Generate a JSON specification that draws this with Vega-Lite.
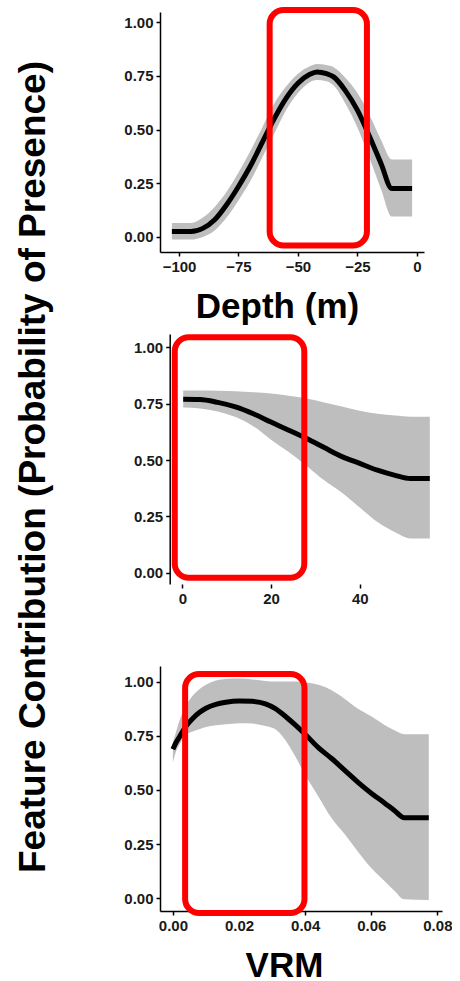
{
  "$schema": "https://vega.github.io/schema/vega-lite/v6.json",
  "background": "white",
  "padding": {"left": 14, "top": 7, "right": 0, "bottom": 0},
  "spacing": 10,
  "title": {
    "text": "Feature Contribution (Probability of Presence)",
    "orient": "left",
    "anchor": "middle",
    "font": "Liberation Sans",
    "fontSize": 37,
    "fontWeight": "bold",
    "color": "#000000",
    "baseline": "alphabetic",
    "offset": 42,
    "dx": 28
  },
  "config": {
    "view": {"stroke": null},
    "font": "Liberation Sans",
    "axis": {
      "grid": false,
      "domainColor": "#000000",
      "domainWidth": 1.5,
      "tickColor": "#000000",
      "tickWidth": 1.5,
      "tickSize": 4,
      "labelFont": "Liberation Sans",
      "labelFontWeight": "bold",
      "labelFontSize": 15,
      "labelColor": "#1a1a1a",
      "labelPadding": 3,
      "titleFont": "Liberation Sans",
      "titleFontWeight": "bold",
      "titleFontSize": 35,
      "titleColor": "#000000"
    }
  },
  "datasets": {
    "depth": [
      {"x": -103, "y": 0.025, "lo": -0.012, "hi": 0.065},
      {"x": -95, "y": 0.025, "lo": -0.012, "hi": 0.065},
      {"x": -90, "y": 0.04, "lo": 0.0, "hi": 0.09},
      {"x": -85, "y": 0.08, "lo": 0.03, "hi": 0.14},
      {"x": -80, "y": 0.15, "lo": 0.09, "hi": 0.21},
      {"x": -75, "y": 0.235, "lo": 0.17, "hi": 0.3},
      {"x": -70, "y": 0.33, "lo": 0.26, "hi": 0.4},
      {"x": -65, "y": 0.44, "lo": 0.37, "hi": 0.51},
      {"x": -60, "y": 0.55, "lo": 0.48, "hi": 0.62},
      {"x": -55, "y": 0.645, "lo": 0.59, "hi": 0.7},
      {"x": -50, "y": 0.715, "lo": 0.67, "hi": 0.76},
      {"x": -45, "y": 0.757, "lo": 0.72, "hi": 0.795},
      {"x": -42, "y": 0.768, "lo": 0.73, "hi": 0.805},
      {"x": -38, "y": 0.76, "lo": 0.725, "hi": 0.8},
      {"x": -35, "y": 0.745, "lo": 0.705, "hi": 0.79},
      {"x": -30, "y": 0.68, "lo": 0.62, "hi": 0.74},
      {"x": -25, "y": 0.59, "lo": 0.51, "hi": 0.67},
      {"x": -20, "y": 0.47, "lo": 0.37, "hi": 0.57},
      {"x": -15, "y": 0.34, "lo": 0.22, "hi": 0.45},
      {"x": -10.5, "y": 0.225, "lo": 0.095, "hi": 0.36},
      {"x": -2, "y": 0.225, "lo": 0.095, "hi": 0.36}
    ],
    "mid": [
      {"x": 0.2, "y": 0.769, "lo": 0.732, "hi": 0.808},
      {"x": 4, "y": 0.768, "lo": 0.728, "hi": 0.808},
      {"x": 8, "y": 0.755, "lo": 0.715, "hi": 0.807},
      {"x": 12, "y": 0.735, "lo": 0.69, "hi": 0.805},
      {"x": 16, "y": 0.705, "lo": 0.65, "hi": 0.8},
      {"x": 20, "y": 0.668, "lo": 0.59, "hi": 0.795},
      {"x": 24, "y": 0.632, "lo": 0.535, "hi": 0.785},
      {"x": 28, "y": 0.595, "lo": 0.475, "hi": 0.772},
      {"x": 32, "y": 0.555, "lo": 0.41, "hi": 0.755},
      {"x": 36, "y": 0.515, "lo": 0.355, "hi": 0.737},
      {"x": 40, "y": 0.485, "lo": 0.29, "hi": 0.718},
      {"x": 44, "y": 0.455, "lo": 0.225, "hi": 0.705},
      {"x": 48, "y": 0.432, "lo": 0.18, "hi": 0.697},
      {"x": 51.4, "y": 0.418, "lo": 0.153, "hi": 0.692},
      {"x": 55.8, "y": 0.418, "lo": 0.153, "hi": 0.692}
    ],
    "vrm": [
      {"x": 0.0, "y": 0.688, "lo": 0.626, "hi": 0.72},
      {"x": 0.001, "y": 0.72, "lo": 0.68, "hi": 0.77},
      {"x": 0.002, "y": 0.745, "lo": 0.71, "hi": 0.82},
      {"x": 0.004, "y": 0.795, "lo": 0.755, "hi": 0.89},
      {"x": 0.006, "y": 0.83, "lo": 0.77, "hi": 0.935},
      {"x": 0.008, "y": 0.857, "lo": 0.78, "hi": 0.965},
      {"x": 0.01, "y": 0.877, "lo": 0.79, "hi": 0.985},
      {"x": 0.013, "y": 0.895, "lo": 0.798, "hi": 1.005},
      {"x": 0.016, "y": 0.905, "lo": 0.803, "hi": 1.012},
      {"x": 0.02, "y": 0.911, "lo": 0.808, "hi": 1.014},
      {"x": 0.024, "y": 0.909, "lo": 0.806, "hi": 1.01},
      {"x": 0.028, "y": 0.897, "lo": 0.795, "hi": 1.003},
      {"x": 0.031, "y": 0.875, "lo": 0.78, "hi": 1.0},
      {"x": 0.034, "y": 0.84, "lo": 0.73, "hi": 1.0},
      {"x": 0.037, "y": 0.8, "lo": 0.655, "hi": 1.0},
      {"x": 0.04, "y": 0.757, "lo": 0.57, "hi": 0.997},
      {"x": 0.044, "y": 0.695, "lo": 0.47, "hi": 0.985},
      {"x": 0.048, "y": 0.645, "lo": 0.37, "hi": 0.96},
      {"x": 0.052, "y": 0.59, "lo": 0.295, "hi": 0.92},
      {"x": 0.056, "y": 0.535, "lo": 0.215, "hi": 0.875},
      {"x": 0.06, "y": 0.485, "lo": 0.14, "hi": 0.84},
      {"x": 0.064, "y": 0.44, "lo": 0.08, "hi": 0.8},
      {"x": 0.067, "y": 0.405, "lo": 0.035, "hi": 0.775},
      {"x": 0.07, "y": 0.372, "lo": -0.005, "hi": 0.757},
      {"x": 0.0774, "y": 0.372, "lo": -0.008, "hi": 0.757}
    ],
    "box": [
      {"panel": "depth", "x1": -61.9, "x2": -21.0, "y1": -0.04, "y2": 1.056},
      {"panel": "mid", "x1": -1.7, "x2": 27.5, "y1": -0.021, "y2": 1.044},
      {"panel": "vrm", "x1": 0.0037, "x2": 0.0398, "y1": -0.068, "y2": 1.035}
    ]
  },
  "vconcat": [
    {
      "width": 264,
      "height": 240,
      "layer": [
        {
          "data": {"name": "depth"},
          "mark": {"type": "area", "color": "#bebebe", "interpolate": "monotone"},
          "encoding": {
            "x": {
              "field": "x", "type": "quantitative",
              "scale": {"domain": [-108, 3], "nice": false, "zero": false},
              "axis": {"values": [-100, -75, -50, -25, 0], "format": "d", "title": "Depth (m)", "titleX": 117, "titleY": 65, "titleBaseline": "alphabetic"}
            },
            "y": {
              "field": "lo", "type": "quantitative",
              "scale": {"domain": [-0.07, 1.047], "nice": false, "zero": false},
              "axis": {"values": [0, 0.25, 0.5, 0.75, 1], "format": ".2f", "title": null}
            },
            "y2": {"field": "hi"}
          }
        },
        {
          "data": {"name": "depth"},
          "mark": {"type": "line", "color": "#000000", "strokeWidth": 5, "strokeCap": "butt", "interpolate": "monotone"},
          "encoding": {
            "x": {"field": "x", "type": "quantitative"},
            "y": {"field": "y", "type": "quantitative"}
          }
        },
        {
          "data": {"name": "box"},
          "transform": [{"filter": "datum.panel == 'depth'"}],
          "mark": {"type": "rect", "filled": false, "stroke": "#ff0000", "strokeWidth": 6, "cornerRadius": 14, "clip": false},
          "encoding": {
            "x": {"field": "x1", "type": "quantitative"},
            "x2": {"field": "x2"},
            "y": {"field": "y1", "type": "quantitative"},
            "y2": {"field": "y2"}
          }
        }
      ]
    },
    {
      "width": 282,
      "height": 250,
      "layer": [
        {
          "mark": {"type": "rule", "color": "#000000", "strokeWidth": 1.5},
          "encoding": {
            "x": {"datum": -2.85, "type": "quantitative"},
            "x2": {"datum": 58.55},
            "y": {"datum": -0.049, "type": "quantitative"}
          }
        },
        {
          "data": {"name": "mid"},
          "mark": {"type": "area", "color": "#bebebe", "interpolate": "monotone"},
          "encoding": {
            "x": {
              "field": "x", "type": "quantitative",
              "scale": {"domain": [-5.03, 58.55], "nice": false, "zero": false},
              "axis": {"values": [0, 20, 40], "format": "d", "domain": false, "title": " ", "titleX": 120, "titleY": 65, "titleBaseline": "alphabetic"}
            },
            "y": {
              "field": "lo", "type": "quantitative",
              "scale": {"domain": [-0.049, 1.058], "nice": false, "zero": false},
              "axis": {"values": [0, 0.25, 0.5, 0.75, 1], "format": ".2f", "offset": -9.7, "title": null}
            },
            "y2": {"field": "hi"}
          }
        },
        {
          "data": {"name": "mid"},
          "mark": {"type": "line", "color": "#000000", "strokeWidth": 5, "strokeCap": "butt", "interpolate": "monotone"},
          "encoding": {
            "x": {"field": "x", "type": "quantitative"},
            "y": {"field": "y", "type": "quantitative"}
          }
        },
        {
          "data": {"name": "box"},
          "transform": [{"filter": "datum.panel == 'mid'"}],
          "mark": {"type": "rect", "filled": false, "stroke": "#ff0000", "strokeWidth": 6, "cornerRadius": 14, "clip": false},
          "encoding": {
            "x": {"field": "x1", "type": "quantitative"},
            "x2": {"field": "x2"},
            "y": {"field": "y1", "type": "quantitative"},
            "y2": {"field": "y2"}
          }
        }
      ]
    },
    {
      "width": 282,
      "height": 245,
      "layer": [
        {
          "data": {"name": "vrm"},
          "mark": {"type": "area", "color": "#bebebe", "interpolate": "monotone"},
          "encoding": {
            "x": {
              "field": "x", "type": "quantitative",
              "scale": {"domain": [-0.0039, 0.0814], "nice": false, "zero": false},
              "axis": {"values": [0, 0.02, 0.04, 0.06, 0.08], "format": ".2f", "title": "VRM", "titleX": 124, "titleY": 65, "titleBaseline": "alphabetic"}
            },
            "y": {
              "field": "lo", "type": "quantitative",
              "scale": {"domain": [-0.059, 1.072], "nice": false, "zero": false},
              "axis": {"values": [0, 0.25, 0.5, 0.75, 1], "format": ".2f", "title": null}
            },
            "y2": {"field": "hi"}
          }
        },
        {
          "data": {"name": "vrm"},
          "mark": {"type": "line", "color": "#000000", "strokeWidth": 5, "strokeCap": "butt", "interpolate": "monotone"},
          "encoding": {
            "x": {"field": "x", "type": "quantitative"},
            "y": {"field": "y", "type": "quantitative"}
          }
        },
        {
          "data": {"name": "box"},
          "transform": [{"filter": "datum.panel == 'vrm'"}],
          "mark": {"type": "rect", "filled": false, "stroke": "#ff0000", "strokeWidth": 6, "cornerRadius": 14, "clip": false},
          "encoding": {
            "x": {"field": "x1", "type": "quantitative"},
            "x2": {"field": "x2"},
            "y": {"field": "y1", "type": "quantitative"},
            "y2": {"field": "y2"}
          }
        }
      ]
    }
  ]
}
